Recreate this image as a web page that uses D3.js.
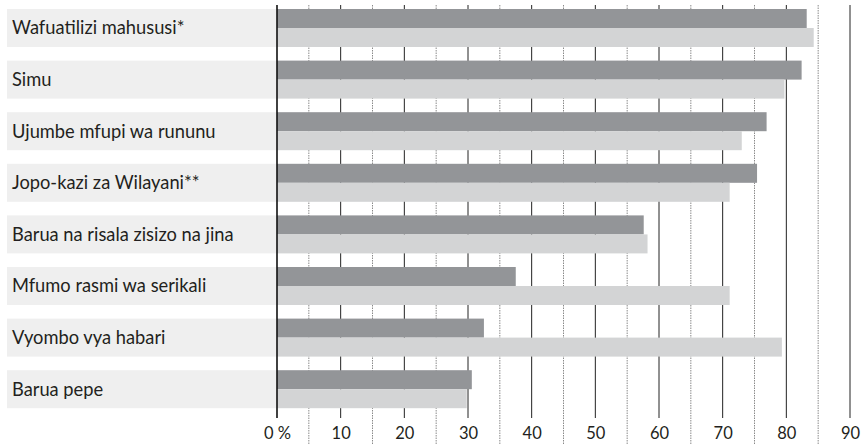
<!DOCTYPE html>
<html><head><meta charset="utf-8">
<script src="https://cdn.jsdelivr.net/npm/d3@7"></script>
<style>body{margin:0;background:#fff}svg{display:block}</style>
</head><body>
<svg id="c" width="867" height="445"></svg>
<script>
const categories = ["Wafuatilizi mahususi*","Simu","Ujumbe mfupi wa rununu","Jopo-kazi za Wilayani**","Barua na risala zisizo na jina","Mfumo rasmi wa serikali","Vyombo vya habari","Barua pepe"];
const seriesA = [83.2, 82.4, 76.9, 75.4, 57.6, 37.5, 32.5, 30.6];
const seriesB = [84.3, 79.7, 73.0, 71.1, 58.2, 71.1, 79.3, 29.8];
const tickValues = [0,10,20,30,40,50,60,70,80,90];
const tickLabels = ["0 %","10","20","30","40","50","60","70","80","90"];
const minorTicks = [5,15,25,35,45,55,65,75,85];

const svg = d3.select("#c");
const x = d3.scaleLinear().domain([0,90]).range([277,850]);
const step = 51.6, bw = 38;
const y = d3.scalePoint().domain(categories).range([9, 9+step*(categories.length-1)]);

// label bands
svg.selectAll("rect.band").data(categories).join("rect")
  .attr("x",7).attr("y",d=>y(d)).attr("width",270).attr("height",bw).attr("fill","#efefef");

// dotted minor lines
svg.selectAll("line.minor").data(minorTicks).join("line")
  .attr("x1",d=>x(d)).attr("x2",d=>x(d)).attr("y1",5).attr("y2",445)
  .attr("stroke","#8a8a8a").attr("stroke-width",1).attr("stroke-dasharray","1.5,1");
// solid major lines
svg.selectAll("line.major").data(tickValues.slice(1)).join("line")
  .attr("x1",d=>x(d)).attr("x2",d=>x(d)).attr("y1",5).attr("y2",418)
  .attr("stroke","#222").attr("stroke-width",1);

// bars
svg.selectAll("rect.a").data(categories).join("rect")
  .attr("x",x(0)).attr("y",d=>y(d)).attr("height",bw/2)
  .attr("width",(d,i)=>x(seriesA[i])-x(0)).attr("fill","#939598");
svg.selectAll("rect.b").data(categories).join("rect")
  .attr("x",x(0)).attr("y",d=>y(d)+bw/2).attr("height",bw/2)
  .attr("width",(d,i)=>x(seriesB[i])-x(0)).attr("fill","#d3d4d5");

// axis line
svg.append("line").attr("x1",x(0)).attr("x2",x(0)).attr("y1",5).attr("y2",418)
  .attr("stroke","#111").attr("stroke-width",1.6);

// labels
svg.selectAll("text.cat").data(categories).join("text")
  .attr("x",12).attr("y",d=>y(d)+bw/2).attr("dy","0.35em")
  .attr("font-family","Lato, 'Open Sans', sans-serif").attr("font-size",18.3).attr("fill","#231f20")
  .text(d=>d);

// tick labels via axis
const axis = d3.axisBottom(x).tickValues(tickValues).tickFormat((d,i)=>tickLabels[i]).tickSize(0).tickPadding(0);
const g = svg.append("g").attr("transform","translate(0,426)").call(axis);
g.select(".domain").remove();
g.selectAll("text").attr("font-family","Lato, 'Open Sans', sans-serif").attr("font-size",16.5).attr("fill","#231f20").attr("dy","0.8em");
</script>
</body></html>
